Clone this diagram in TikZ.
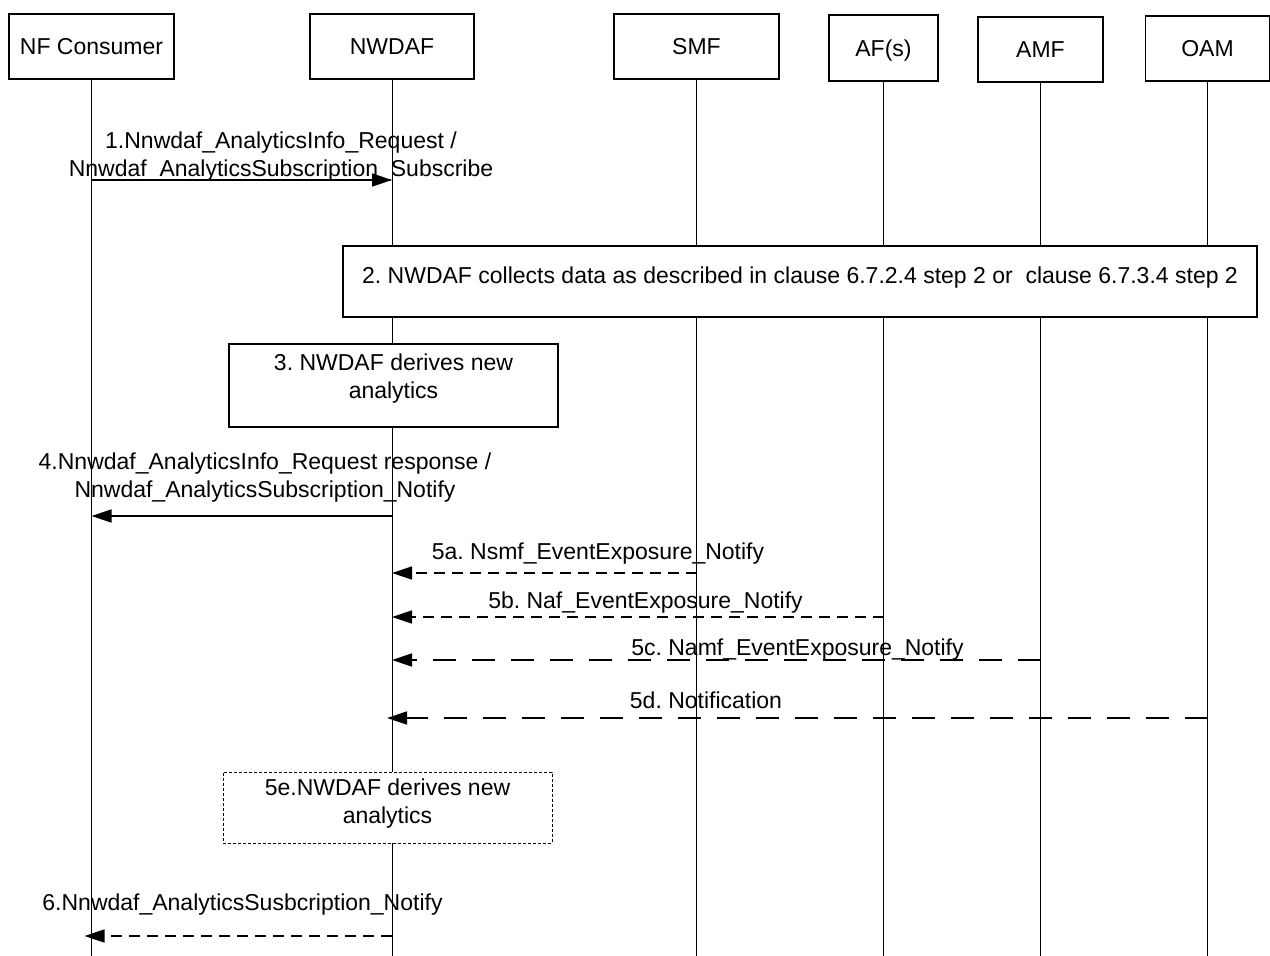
\documentclass[tikz,border=0pt]{standalone}
\usepackage{fontspec}
\setmainfont{Liberation Sans}
\usetikzlibrary{arrows.meta}
\begin{document}
\frenchspacing
\begin{tikzpicture}[x=1pt,y=-1pt,
  every node/.style={font=\fontsize{23}{27.5}\selectfont\frenchspacing, inner sep=0pt},
  head/.style={draw, line width=1.2pt, minimum height=65pt, text height=16.5pt, text depth=0pt},
  life/.style={line width=1pt},
  proc/.style={draw, line width=1.2pt, fill=white},
  msg/.style={line width=1.5pt, -{Triangle[length=20pt,width=13pt]}},
  sdash/.style={dash pattern=on 11pt off 7pt},
  ldash/.style={dash pattern=on 23pt off 16pt},
  lbl/.style={anchor=base, align=center}
]
\useasboundingbox (0,0) rectangle (1270,956);
% headers
\node[head, minimum width=165pt] (nfc) at (91.5,46.5) {NF Consumer};
\node[head, minimum width=164pt] (nwdaf) at (392,46.5) {NWDAF};
\node[head, minimum width=165pt] (smf) at (696.5,46.5) {SMF};
\node[head, minimum width=109pt, minimum height=66pt] (af) at (883.5,48) {AF(s)};
\node[head, minimum width=125pt] (amf) at (1040.5,49.5) {AMF};
\node[head, minimum width=124pt] (oam) at (1207.5,48.5) {OAM};
% lifelines
\coordinate (bot) at (0,956);
\foreach \n in {nfc,nwdaf,smf,af,amf,oam}
  \draw[life] (\n.south) -- (\n.south |- bot);
% step 1 (base anchor = last line)
\coordinate (y1) at (0,180);
\draw[msg] (nfc |- y1) -- (nwdaf |- y1);
\node[lbl] (m1) at (281,176) {1.Nnwdaf\_AnalyticsInfo\_Request /\\Nnwdaf\_AnalyticsSubscription\_Subscribe};
% step 2
\node[proc, minimum width=914pt, minimum height=71pt, text height=17pt, text depth=14pt] (s2) at (800,281.5)
  {2. NWDAF collects data as described in clause 6.7.2.4 step 2 or\ \ clause 6.7.3.4 step 2};
% step 3
\node[proc, minimum width=329pt, minimum height=83pt] (s3) at (393.5,385.5) {};
\node[lbl] (s3t) at (393.5,398) {3. NWDAF derives new\\analytics};
% step 4
\coordinate (y4) at (0,516);
\draw[msg] (nwdaf |- y4) -- (nfc |- y4);
\node[lbl] (m4) at (265,497) {4.Nnwdaf\_AnalyticsInfo\_Request response /\\Nnwdaf\_AnalyticsSubscription\_Notify};
% 5a
\coordinate (y5a) at (0,573);
\draw[msg, sdash] (smf |- y5a) -- (nwdaf |- y5a);
\node[lbl] (m5a) at (598,559) {5a. Nsmf\_EventExposure\_Notify};
% 5b
\coordinate (y5b) at (0,617);
\draw[msg, sdash] (af |- y5b) -- (nwdaf |- y5b);
\node[lbl] (m5b) at (645.5,608) {5b. Naf\_EventExposure\_Notify};
% 5c
\coordinate (y5c) at (0,660);
\draw[msg, ldash] (amf |- y5c) -- (nwdaf |- y5c);
\node[lbl] (m5c) at (797.5,655) {5c. Namf\_EventExposure\_Notify};
% 5d
\coordinate (y5d) at (0,718);
\draw[msg, ldash, shorten >=-5pt] (oam |- y5d) -- (nwdaf |- y5d);
\node[lbl] (m5d) at (706,708) {5d. Notification};
% 5e
\node[proc, line width=0.8pt, dash pattern=on 3pt off 2pt, minimum width=329pt, minimum height=71pt] (s5e) at (387.5,807.5) {};
\node[lbl] (s5et) at (387.5,823) {5e.NWDAF derives new\\analytics};
% 6
\coordinate (y6) at (0,936);
\draw[msg, sdash, shorten >=-7pt] (nwdaf |- y6) -- (nfc |- y6);
\node[lbl] (m6) at (242.5,910) {6.Nnwdaf\_AnalyticsSusbcription\_Notify};
\end{tikzpicture}
\end{document}
